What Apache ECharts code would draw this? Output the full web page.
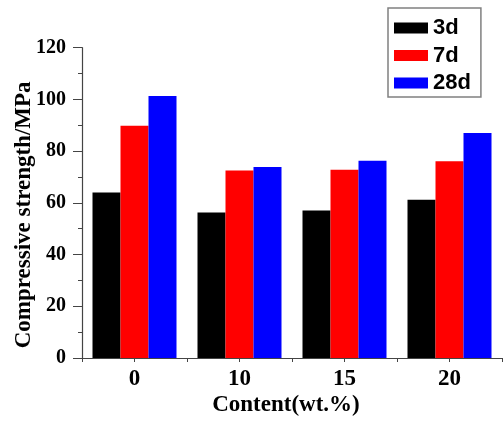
<!DOCTYPE html>
<html>
<head>
<meta charset="utf-8">
<script src="https://cdn.jsdelivr.net/npm/echarts@6/dist/echarts.min.js"></script>
<style>html,body{margin:0;padding:0;background:#fff}#c{width:503px;height:422px}</style>
</head>
<body>
<div id="c"></div>
<script>
const categories = ['0', '10', '15', '20'];
const seriesNames = ['3d', '7d', '28d'];
const values3d = [64.0, 56.3, 57.0, 61.2];
const values7d = [89.8, 72.5, 72.8, 76.1];
const values28d = [101.3, 73.9, 76.3, 87.0];
const yTicks = [0, 20, 40, 60, 80, 100, 120];

const serif = '"Liberation Serif", "Times New Roman", serif';
const sans = '"Liberation Sans", Arial, sans-serif';
const colors = ['#000000', '#ff0000', '#0000ff'];
const dataSets = [values3d, values7d, values28d];

const chart = echarts.init(document.getElementById('c'));
chart.setOption({
  animation: false,
  grid: { left: 82, right: 1, top: 47.7, bottom: 64, containLabel: false, outerBoundsMode: 'none' },
  legend: {
    orient: 'vertical',
    left: 388, top: 8,
    padding: [9, 10, 3, 6],
    itemWidth: 34, itemHeight: 11, itemGap: 5.5,
    borderColor: '#808080', borderWidth: 1.5,
    icon: 'rect',
    data: seriesNames,
    textStyle: { fontFamily: sans, fontWeight: 'bold', fontSize: 22, color: '#000', lineHeight: 22 }
  },
  xAxis: [{
    type: 'category',
    data: categories,
    name: 'Content(wt.%)',
    nameLocation: 'middle',
    nameGap: 36,
    nameMoveOverlap: false,
    nameTextStyle: { fontFamily: serif, fontWeight: 'bold', fontSize: 23, color: '#000', padding: [0, 12, 0, 0] },
    axisLine: { lineStyle: { color: '#444', width: 1.2 } },
    axisTick: { show: true, length: 4, lineStyle: { color: '#444' } },
    axisLabel: { fontFamily: serif, fontWeight: 'bold', fontSize: 23, color: '#000', margin: 10 }
  }, {
    type: 'category',
    data: categories,
    position: 'bottom',
    axisLine: { show: false },
    axisTick: { show: true, alignWithLabel: true, length: 4, lineStyle: { color: '#444' } },
    axisLabel: { show: false }
  }],
  yAxis: {
    type: 'value',
    min: 0, max: 120, interval: 20,
    name: 'Compressive strength/MPa',
    nameLocation: 'middle',
    nameGap: 46,
    nameMoveOverlap: false,
    nameTextStyle: { fontFamily: serif, fontWeight: 'bold', fontSize: 23, color: '#000', padding: [0, 24, 0, 0] },
    axisLine: { show: true, lineStyle: { color: '#444', width: 1.2 } },
    axisTick: { show: true, length: 9, lineStyle: { color: '#444' } },
    minorTick: { show: true, splitNumber: 2, length: 4, lineStyle: { color: '#444' } },
    splitLine: { show: false },
    axisLabel: {
      fontFamily: serif, fontWeight: 'bold', fontSize: 20, color: '#000', margin: 16,
      formatter: v => yTicks.includes(v) ? String(v) : ''
    }
  },
  series: seriesNames.map((n, i) => ({
    name: n,
    type: 'bar',
    data: dataSets[i],
    barWidth: 28,
    barGap: '0%',
    itemStyle: { color: colors[i] }
  }))
});
</script>
</body>
</html>
